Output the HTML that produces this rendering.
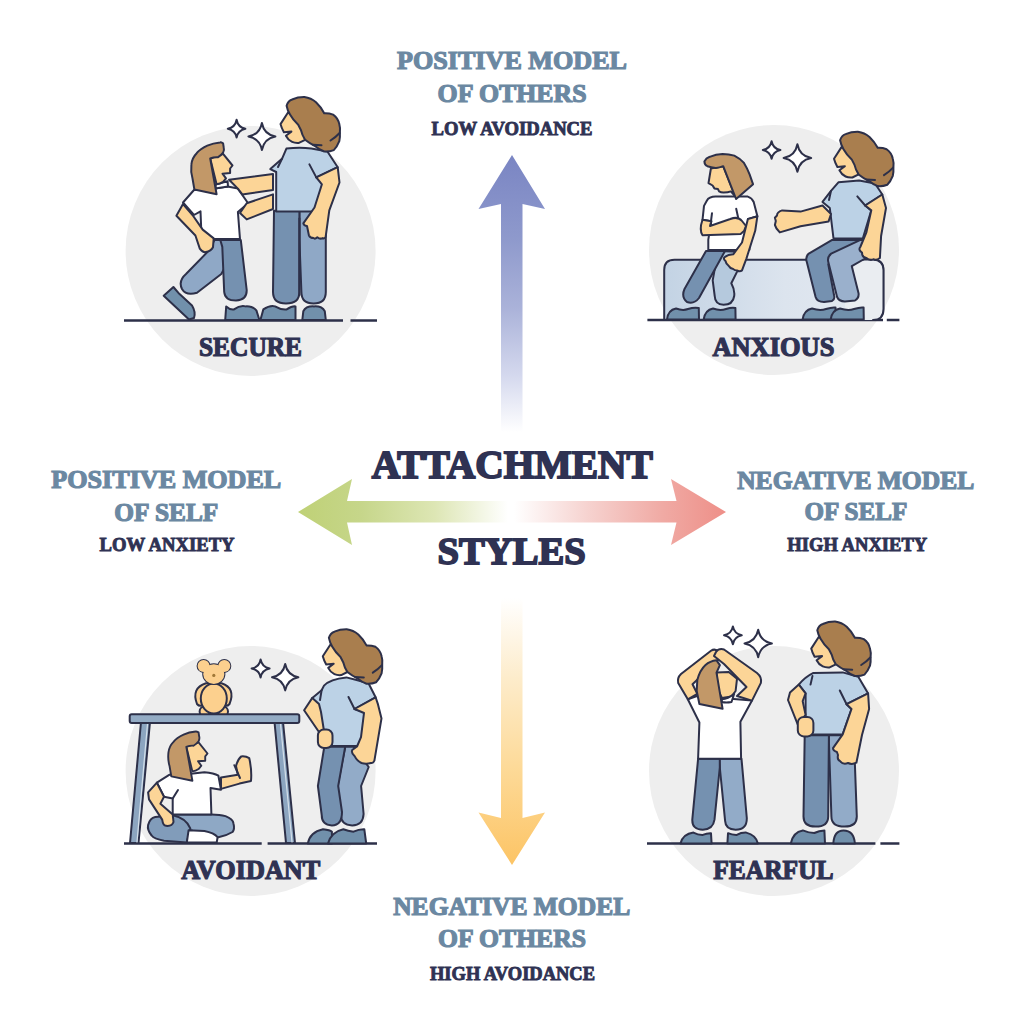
<!DOCTYPE html>
<html><head><meta charset="utf-8">
<style>
html,body{margin:0;padding:0;background:#fff;width:1024px;height:1024px;overflow:hidden}
svg{display:block}
.h{font-family:"Liberation Serif",serif;font-weight:bold;fill:#6b88a2;stroke:#6b88a2;stroke-width:1.2px}
.d{font-family:"Liberation Serif",serif;font-weight:bold;fill:#2f3253;stroke:#2f3253;stroke-width:0.9px}
.big{stroke-width:1.8px}
.lab{stroke-width:1.2px}
</style></head><body>
<svg width="1024" height="1024" viewBox="0 0 1024 1024">
<defs>
<linearGradient id="gUp" x1="0" y1="155" x2="0" y2="432" gradientUnits="userSpaceOnUse">
<stop offset="0" stop-color="#7a85c3"/><stop offset="0.3" stop-color="#8e99cc"/><stop offset="0.55" stop-color="#aab2d9"/><stop offset="0.8" stop-color="#d5d9ee"/><stop offset="1" stop-color="#fff"/>
</linearGradient>
<linearGradient id="gDn" x1="0" y1="598" x2="0" y2="865" gradientUnits="userSpaceOnUse">
<stop offset="0" stop-color="#fff"/><stop offset="0.3" stop-color="#fdeccb"/><stop offset="0.65" stop-color="#fdd996"/><stop offset="1" stop-color="#fcc465"/>
</linearGradient>
<linearGradient id="gL" x1="298" y1="0" x2="508" y2="0" gradientUnits="userSpaceOnUse">
<stop offset="0" stop-color="#bfd176"/><stop offset="0.3" stop-color="#c6d68a"/><stop offset="0.65" stop-color="#dde6b4"/><stop offset="1" stop-color="#fff"/>
</linearGradient>
<linearGradient id="gR" x1="514" y1="0" x2="726" y2="0" gradientUnits="userSpaceOnUse">
<stop offset="0" stop-color="#fff"/><stop offset="0.35" stop-color="#f6d2cf"/><stop offset="0.7" stop-color="#f0aaa4"/><stop offset="1" stop-color="#ee8f88"/>
</linearGradient>

</defs>

<!-- circles -->
<circle cx="250.6" cy="251" r="125" fill="#eeeeee"/>
<circle cx="774" cy="250" r="125" fill="#eeeeee"/>
<circle cx="250.6" cy="771" r="125" fill="#eeeeee"/>
<circle cx="774" cy="771" r="125" fill="#eeeeee"/>

<!-- arrows -->
<path d="M512 155 L545 209 L522.5 204 L522.5 432 L501 432 L501 204 L478.5 209 Z" fill="url(#gUp)"/>
<path d="M512 865 L545 812.5 L522.5 818 L522.5 598 L501 598 L501 818 L478.5 812.5 Z" fill="url(#gDn)"/>
<path d="M298 512 L352 479 L347 501 L510 501 L510 522.5 L347 522.5 L352 545 Z" fill="url(#gL)"/>
<path d="M726 512 L671 479 L676.5 501 L512 501 L512 522.5 L676.5 522.5 L671 545 Z" fill="url(#gR)"/>

<!-- ground lines -->
<g stroke="#2d3049" stroke-width="2.4" fill="none">
<path d="M124 320.5 H343 M350.5 320.5 H377"/>
<path d="M647.4 320 H883 M886.8 320 H899.4"/>
<path d="M124 843.5 H261.7 M267.6 843.5 H377"/>
<path d="M647 843.5 H875.4 M880.4 843.5 H899.4"/>
</g>

<!-- text -->
<g id="txt">
<text class="h" x="397" y="69.3" font-size="25.8" textLength="230" lengthAdjust="spacingAndGlyphs">POSITIVE MODEL</text>
<text class="h" x="437.6" y="102.3" font-size="25.8" textLength="149" lengthAdjust="spacingAndGlyphs">OF OTHERS</text>
<text class="d" x="431.5" y="134.9" font-size="19" textLength="161" lengthAdjust="spacingAndGlyphs">LOW AVOIDANCE</text>

<text class="h" x="51.3" y="488.3" font-size="25.8" textLength="230" lengthAdjust="spacingAndGlyphs">POSITIVE MODEL</text>
<text class="h" x="114.3" y="520.6" font-size="25.8" textLength="104" lengthAdjust="spacingAndGlyphs">OF SELF</text>
<text class="d" x="99.6" y="551.1" font-size="19" textLength="135" lengthAdjust="spacingAndGlyphs">LOW ANXIETY</text>

<text class="h" x="737.2" y="488.8" font-size="25.8" textLength="237" lengthAdjust="spacingAndGlyphs">NEGATIVE MODEL</text>
<text class="h" x="804.4" y="519.9" font-size="25.8" textLength="103" lengthAdjust="spacingAndGlyphs">OF SELF</text>
<text class="d" x="787.3" y="551.2" font-size="19" textLength="140" lengthAdjust="spacingAndGlyphs">HIGH ANXIETY</text>

<text class="h" x="393.2" y="915" font-size="25.8" textLength="237" lengthAdjust="spacingAndGlyphs">NEGATIVE MODEL</text>
<text class="h" x="438" y="947.2" font-size="25.8" textLength="148" lengthAdjust="spacingAndGlyphs">OF OTHERS</text>
<text class="d" x="430" y="980.4" font-size="19" textLength="165" lengthAdjust="spacingAndGlyphs">HIGH AVOIDANCE</text>

<text class="d big" x="371.7" y="478.4" font-size="39.1" textLength="281" lengthAdjust="spacingAndGlyphs">ATTACHMENT</text>
<text class="d big" x="437.6" y="564" font-size="37.8" textLength="148" lengthAdjust="spacingAndGlyphs">STYLES</text>

<text class="d lab" x="199" y="356.4" font-size="26.4" textLength="103" lengthAdjust="spacingAndGlyphs">SECURE</text>
<text class="d lab" x="712.4" y="356.4" font-size="26.4" textLength="122" lengthAdjust="spacingAndGlyphs">ANXIOUS</text>
<text class="d lab" x="181.3" y="879.3" font-size="26.4" textLength="139" lengthAdjust="spacingAndGlyphs">AVOIDANT</text>
<text class="d lab" x="713.2" y="879.3" font-size="26.4" textLength="120.4" lengthAdjust="spacingAndGlyphs">FEARFUL</text>
</g>

<!-- FIGURES -->
<g id="figs" stroke="#2d3049" stroke-width="2.0" stroke-linejoin="round" stroke-linecap="round">

<g id="avoidant">
<path d="M260.6 659.5 Q262.0 667.1 269.6 668.5 Q262.0 669.9 260.6 677.5 Q259.2 669.9 251.6 668.5 Q259.2 667.1 260.6 659.5Z" fill="#fff"/>
<path d="M285.2 664.0 Q287.3 675.1 298.4 677.2 Q287.3 679.3 285.2 690.4 Q283.1 679.3 272.0 677.2 Q283.1 675.1 285.2 664.0Z" fill="#fff"/>
<!-- table legs -->
<path d="M141 722 L150 722 L138.5 843 L130 843 Z" fill="#8ca5c0"/>
<path d="M274.5 722 L283 722 L295 843 L286 843 Z" fill="#8ca5c0"/>
<path d="M147.5 724 L137 842 M280.5 724 L292 842" stroke="#d5e0ea" stroke-width="1.2" fill="none"/>
<!-- teddy -->
<g fill="#fcd08e">
<path d="M197 704 Q191 688 206 683.2 L221.5 683.2 Q236 688 229.5 704 Q227 707 224 705 L203 705 Q199.5 707 197 704 Z"/>
<circle cx="204.6" cy="711.5" r="5"/>
<circle cx="223" cy="711.5" r="5"/>
<ellipse cx="213.8" cy="698.5" rx="13" ry="15"/>
<circle cx="203.6" cy="665.9" r="6"/>
<circle cx="224.3" cy="665.9" r="6"/>
<ellipse cx="213.8" cy="674.1" rx="10.6" ry="9.8"/>
<g stroke="none"><circle cx="203.6" cy="665.9" r="6"/><circle cx="224.3" cy="665.9" r="6"/><ellipse cx="213.8" cy="674.1" rx="10.6" ry="9.8"/></g>
<circle cx="213.8" cy="675.4" r="1.6" fill="#a07838" stroke="none"/>
</g>
<!-- table top -->
<rect x="129.7" y="714.3" width="169.6" height="8.6" rx="2" fill="#93abc4"/>
<!-- child legs -->
<path d="M172.7 814.4 L211.4 814.4 Q220 814.5 225.5 816.1 Q233 819 233.4 823.2 Q235 829 232.5 832 Q226 836 218.4 837.2 L190.3 830.2 L171 828.4 Z" fill="#8ea8c5"/>
<path d="M148.1 824.9 Q150 818 155.2 817 L172.7 815.3 Q186 818 190.3 828.4 L186.8 842.5 L164 840.7 Q154 839 151.6 835.5 Q147 830 148.1 824.9 Z" fill="#819cba"/>
<path d="M188.6 830.2 L204.4 831.1 Q214 833 217.6 837.2 L216.7 842.5 L186.8 842.5 Z" fill="#fff"/>
<!-- child shirt -->
<path d="M156.9 782.7 L169.2 774.8 L188.6 774 L204.4 772.2 Q214 773 218.4 775.7 L221 789.8 L210.5 788 L211.4 814.4 L172.7 814.4 L172.7 798.6 L164 796.8 Z" fill="#fff"/>
<path d="M172.7 798.6 L178 790" fill="none"/>
<!-- child left arm -->
<path d="M156.9 782.7 L148.1 792.4 L149 799.4 L162.2 819.6 Q163 825.5 166 825.8 Q172 826.5 173.5 822 L172.7 814.4 L160.4 803.8 L164 796.8 Z" fill="#fcd597"/>
<!-- child raised arm -->
<path d="M221 777.5 L237.8 774.8 L236 766 Q238 759 241.3 756.4 Q246 756 249.2 758.1 Q252 770 251 781 L239.5 783.6 L221 788.9 Z" fill="#fcd597"/>
<path d="M234.3 765.2 L240 778" fill="none"/>
<!-- child head -->
<g transform="translate(207.5 753.5) scale(0.95) translate(-232.5 -165.5)">
<path d="M210.2 158.5 L223.1 153.8 L232.5 165.5 L230.1 168.5 L230.1 173.1 L222.5 173.7 L226 178.4 L223.1 181.9 Q220 184 216.6 184.3 Z" fill="#fcd597"/>
<path d="M223.1 143.3 Q221 142.2 220.1 142.4 Q213 143 207.3 145.6 Q200 149 196.7 153.2 Q192 158 191.4 164.4 Q190.5 172 192.6 179 L194.4 189.6 L216.6 194.2 L210.2 158.5 Q214 157 217.8 157.3 Q221 155.5 223.1 152.6 Q224.5 150 223.7 147.4 Z" fill="#c29868"/>
</g>
<!-- adult pants -->
<path d="M345.2 746.7 L353.5 746.7 L368.7 767 L361.1 786 L363.6 814 Q363 825.4 352.2 825.4 Q341 825 340.8 815 L337.6 786 Z" fill="#92abc8"/>
<path d="M324.3 746.7 L345.2 746.7 L338.2 786 L342 812 Q342 825.4 331.9 825.4 Q321.7 825 321.7 815 L317.9 786 Z" fill="#7591b0"/>
<!-- adult shirt -->
<path d="M324 685.6 Q330 679 346.3 677.4 L355.6 679.8 L368.5 683.3 L375.6 697.3 L354.5 709 L368 713 L365 746 L322 746 L318 712 L312.3 697.9 L321.6 690.3 Z" fill="#bcd2e6"/>
<path d="M348.5 697 L354.5 709 M321.6 690.3 L320 700" fill="none"/>
<!-- adult left arm -->
<path d="M312.3 697.9 L304.1 710.2 L319.3 732.5 L324 731 L321 712 L319 704 Z" fill="#fcd597"/>
<rect x="317.9" y="729.5" width="14.6" height="18.5" rx="6" fill="#fcd597"/>
<!-- adult right arm -->
<path d="M354.5 709 L375.6 697.3 L378 704.4 L381.5 718.4 L374.4 760.6 Q373 763.5 370.9 763 Q366 764.5 361.5 763 Q357 761 354.5 755.9 Q351 753 352.2 750 L357 746.5 L361 737.2 L364 713 Z" fill="#fcd597"/>
<!-- adult head -->
<g transform="translate(42.3 532.2)">
<path d="M288 112.5 L280.5 124.1 Q281.5 128 283.9 132.3 L291.4 131.6 L285.9 135.7 Q288 140 292.1 141.9 Q295 143.2 298.9 142.9 L305.1 139.8 L300 120 Z" fill="#fcd597"/>
<path d="M286.6 105.7 Q288 101 292.1 99.5 Q298 97 304.4 97.1 Q311 98 316 102.3 Q321 107 324.2 113.2 Q329 113 333.1 114.6 Q338 118 339.3 124.1 Q340.5 128 339.9 133 Q340.2 137 339.3 141.2 Q337 147 333.8 150.1 Q329 152 324.2 151.5 Q319 149.5 316 146.7 Q309 143 305.1 139.8 Q302 135 301 130.3 L298.2 124.8 Q293 120 290 114.6 Q287.5 110.5 286.6 105.7 Z" fill="#a97e4e"/>
<path d="M313 144.8 L321.5 145.3 M330.5 140.5 Q336 137 339.6 133" fill="none"/>
</g>
<!-- shoes -->
<path d="M307.8 843.5 Q310 832 323 829.2 Q330 830 331.9 831.7 L332 843.5 Z" fill="#7190ab"/>
<path d="M328 843.5 Q331 832 343.3 829.2 Q348 831 353.5 831.7 Q359 829 364.3 829.2 L366.2 843.5 Z" fill="#7190ab"/>
</g>

<g id="fearful">
<path d="M732.9 626.4 Q734.3 633.9 741.8 635.3 Q734.3 636.7 732.9 644.2 Q731.5 636.7 724.0 635.3 Q731.5 633.9 732.9 626.4Z" fill="#fff"/>
<path d="M758.2 629.8 Q760.4 641.3 771.9 643.5 Q760.4 645.7 758.2 657.2 Q756.0 645.7 744.5 643.5 Q756.0 641.3 758.2 629.8Z" fill="#fff"/>
<!-- child pants -->
<path d="M719.2 758.8 L741.5 758.8 L746.8 818 Q747 829.7 735.6 829.7 Q725.5 829.5 725.1 820.9 L719.8 767.5 Z" fill="#92abc8"/>
<path d="M698.1 758.8 L719.8 758.8 L719.8 767.5 L714.5 819.7 Q713 829.7 702.8 829.7 Q692 829.5 692.3 819.7 Z" fill="#7591b0"/>
<!-- child shirt -->
<path d="M687.8 699.3 L697 696 L752 700.6 L740.4 721.8 L741.1 758.8 L698.1 758.8 L699.4 722.5 Z" fill="#fff"/>
<!-- child arms -->
<path d="M687.8 699.3 L678.2 682.9 Q677 678 681 674 L711 650.8 Q715 648 719.2 652 L722 656 L716 662 L692.5 684.2 L697.3 693.8 Z" fill="#fcd597"/>
<path d="M752 700.6 L760.9 682.9 Q762 677 757 673 L724 649.5 Q719 648 716 652 L714 656 L724 664 L746.5 687 L737 696 Z" fill="#fcd597"/>
<!-- child head -->
<path d="M716.5 672.6 L728.8 672 L737 678.8 L735.6 691 L731.5 696.5 L721.9 697.9 L718 690 Z" fill="#fcd597"/>
<path d="M721.9 699.3 Q728 699 734.2 693.8 L731.5 702 Q726 703 721.9 702 Z" fill="#fff"/>
<path d="M697.3 680.1 Q700 670 705.5 665.1 Q710 661 716.5 660.3 L719.9 665.1 L716.5 672.6 L722.6 708.8 L699.4 704 L696.7 691 Z" fill="#c29868"/>
<!-- adult pants -->
<path d="M828.9 735.2 L843.5 735.2 L854.9 764.4 L856.8 816.4 Q856.8 826.6 844.7 826.6 Q831.4 826.6 831.4 816.4 L828.9 741.6 Z" fill="#92abc8"/>
<path d="M804.7 735.2 L828.9 735.2 L828.2 816.4 Q828.2 826.6 815.5 826.6 Q803.5 826.6 803.5 816.4 Z" fill="#7591b0"/>
<!-- adult shirt -->
<path d="M805.6 693.4 L798.8 684.6 Q805 677 813.4 672.9 L842.7 672.4 L858.3 676.8 L868.1 693.4 L846.6 704.2 L851.5 709 L842.7 734.4 L805.6 734.4 Z" fill="#bcd2e6"/>
<path d="M839.8 690.5 L846.6 704.2 M812.5 675.9 L810.5 684.6" fill="none"/>
<!-- adult left arm -->
<path d="M798.8 684.6 L790 692.5 L788 700 L797.8 724.7 L805.6 714.9 L802.7 701.2 L805.6 693.4 Z" fill="#fcd597"/>
<rect x="797.8" y="716.9" width="15.6" height="19.5" rx="6" fill="#fcd597"/>
<!-- adult right arm -->
<path d="M846.6 704.2 L868.1 693.4 L869.1 709 L862 735 L856.4 762.7 Q852 765 848 763 Q843 765 840 761 Q837 760 838 755 L836.9 752 Q833 751 833 748.1 L842.7 734.4 L851.5 709 Z" fill="#fcd597"/>
<!-- adult head -->
<g transform="translate(530.7 524.5)">
<path d="M288 112.5 L280.5 124.1 Q281.5 128 283.9 132.3 L291.4 131.6 L285.9 135.7 Q288 140 292.1 141.9 Q295 143.2 298.9 142.9 L305.1 139.8 L300 120 Z" fill="#fcd597"/>
<path d="M286.6 105.7 Q288 101 292.1 99.5 Q298 97 304.4 97.1 Q311 98 316 102.3 Q321 107 324.2 113.2 Q329 113 333.1 114.6 Q338 118 339.3 124.1 Q340.5 128 339.9 133 Q340.2 137 339.3 141.2 Q337 147 333.8 150.1 Q329 152 324.2 151.5 Q319 149.5 316 146.7 Q309 143 305.1 139.8 Q302 135 301 130.3 L298.2 124.8 Q293 120 290 114.6 Q287.5 110.5 286.6 105.7 Z" fill="#a97e4e"/>
<path d="M313 144.8 L321.5 145.3 M330.5 140.5 Q336 137 339.6 133" fill="none"/>
</g>
<!-- shoes -->
<path d="M680.5 843.5 Q683 834 693.4 832.6 Q698 835 702.8 834.9 Q707 833 711 833.2 L711.6 843.5 Z" fill="#7190ab"/>
<path d="M727.4 843.5 L728 833.2 Q732 835 736.8 834.9 Q741 832.5 746.2 832.6 Q756 835 757.9 843.5 Z" fill="#7190ab"/>
<path d="M790.8 843.5 Q793 832 802.8 830.4 Q809 833 814.3 833 Q819 830.5 824.4 830.4 L825 843.5 Z" fill="#7190ab"/>
<path d="M833.3 843.5 Q834 830.4 843.5 830.4 Q854 830.4 854.9 843.5 Z" fill="#7190ab"/>
</g>

<g id="anxious">
<defs>
<linearGradient id="couch" x1="664" y1="0" x2="883" y2="0" gradientUnits="userSpaceOnUse">
<stop offset="0" stop-color="#c3d3e4"/><stop offset="0.55" stop-color="#dce4ee"/><stop offset="1" stop-color="#e4e9f0"/>
</linearGradient>
</defs>
<path d="M771.6 141.2 Q773 148.6 780.4 150 Q773 151.4 771.6 158.8 Q770.2 151.4 762.8 150 Q770.2 148.6 771.6 141.2Z" fill="#fff"/>
<path d="M797.4 144.2 Q799.5 155.9 811.2 158 Q799.5 160.1 797.4 171.8 Q795.3 160.1 783.6 158 Q795.3 155.9 797.4 144.2Z" fill="#fff"/>
<!-- couch -->
<path d="M664.2 319.8 L664.2 270 Q664.2 259.8 674.5 259.8 L873 259.8 Q883.2 259.8 883.2 270 L883.2 309 Q883.2 319.8 872 319.8 Z" fill="url(#couch)"/>
<!-- child legs -->
<path d="M718 251 L745 252 L737.1 271.6 L731.3 283.3 Q735 290 734.2 296 Q733 304.8 723.5 304.8 Q715 304.5 714.7 296 L712.7 280.4 Z" fill="#b5c9dd"/>
<path d="M706 251 L725 251 L699 298 Q694 304.5 687 302 Q681 297 684.5 289 Z" fill="#7591b0"/>
<!-- child shirt -->
<path d="M706.8 200.7 Q709 196.6 715.6 196.6 L747.8 196.6 Q752 198 753.7 202 L757.4 216.2 L747.9 219 L749.4 249.9 L708.3 249.9 L708.3 239.6 L711.3 221.3 L702.5 219.8 L704 205.9 Z" fill="#fff"/>
<path d="M712 213.2 L710.5 225 M736.2 208.8 L739.1 222" fill="none"/>
<!-- child crossed arm -->
<path d="M702.5 219.8 L711.3 221.3 L710 226 L730.3 219 Q738 216 742 221 L746 226 L744 231 L740.6 234 L702.5 235.2 Q699 230 702.5 219.8 Z" fill="#fcd597"/>
<!-- child hanging arm -->
<path d="M747.9 219.1 L757.4 216.2 L755.2 230.8 L746.4 258.6 L742 270.4 Q740 272 737 270.5 Q734 270.5 733.2 268.9 Q730 268.5 728.8 266 Q726 264 725.5 261 Q723 259 724.5 257.2 Q728 254.5 733.2 254.3 L742 242.5 Z" fill="#fcd597"/>
<!-- child head -->
<path d="M710.9 168.5 L708.5 183.1 L712.6 185.5 L714.4 188.4 L717.9 189 L719.1 191.4 Q721 192.6 723.8 192.5 Q728 192.5 730.8 191.4 L735 196 L723.2 166.2 Z" fill="#fcd597"/>
<path d="M704.4 161.5 Q706 158 709.7 156.8 Q716 154 722.6 153.9 Q729 154 734.3 155.6 Q740 158.5 743.7 162.6 Q747 168 749.6 174.4 L753.1 184.3 L736.1 199 L723.2 166.2 Q719 168 715.6 167.9 Q711 167.5 707.4 166.2 Q704.5 165 704.4 161.5 Z" fill="#c29868"/>
<!-- adult pants -->
<path d="M851.8 266.2 Q856 259.5 864.5 259.4 L873 259.4 Q883.5 260 883.5 270 L883.5 309 Q883.5 320 873 320 L845 320 L845 300 Z" fill="#eaedf1" stroke="none"/>
<path d="M851.8 266.2 Q856 259.5 864.5 259.4 L873 259.4 Q883.5 260 883.5 270 L883.5 309 Q883.5 320 873 320" fill="none"/>
<path d="M862 239.7 L832.2 239.9 L808.8 253.6 Q805 257 806.8 262 L815.6 297 Q817 302 824 302 L832 301 Q835 299 834.2 296 L828.3 264.3 L850 250 Z" fill="#7591b0"/>
<path d="M865.2 239.7 L860.5 239.9 L831.2 253.6 Q827 257 828.3 262 L837.1 297 Q839 301.5 845 301.4 L855 300.5 Q859 298 858.6 293.6 L851.8 266.2 L866 258 Z" fill="#9ab0cc"/>
<!-- adult shirt -->
<path d="M838.4 182.3 L859.1 180.5 L875 183.5 L882.3 194.5 L865.2 205.5 L871.3 210.4 L862.8 238.5 L833.5 238.5 L829.8 208 L822.5 201.9 L831 190.9 Z" fill="#bcd2e6"/>
<path d="M857.3 196.4 L865.2 205.5 M831 190.9 L829 200" fill="none"/>
<!-- adult reaching arm -->
<path d="M831 214 L822.5 205.5 L800.5 211.6 L782.2 210.4 Q777 212 777 215.5 L774.9 217.7 L775.8 221 L774.9 225 L776.5 228.5 L779.8 232.4 L800.5 226.3 L828.6 221.4 Z" fill="#fcd597"/>
<!-- adult right arm -->
<path d="M865.2 205.5 L882.3 194.5 L886 208 L881.1 236 L879.9 258 Q876 261 873.8 259.2 Q870 261 866.4 258 Q862 257.5 862 252.5 Q858 250 860.3 247 L866.4 232.4 L871.3 210.4 Z" fill="#fcd597"/>
<!-- adult head -->
<g transform="translate(553.5 34.6)">
<path d="M288 112.5 L280.5 124.1 Q281.5 128 283.9 132.3 L291.4 131.6 L285.9 135.7 Q288 140 292.1 141.9 Q295 143.2 298.9 142.9 L305.1 139.8 L300 120 Z" fill="#fcd597"/>
<path d="M286.6 105.7 Q288 101 292.1 99.5 Q298 97 304.4 97.1 Q311 98 316 102.3 Q321 107 324.2 113.2 Q329 113 333.1 114.6 Q338 118 339.3 124.1 Q340.5 128 339.9 133 Q340.2 137 339.3 141.2 Q337 147 333.8 150.1 Q329 152 324.2 151.5 Q319 149.5 316 146.7 Q309 143 305.1 139.8 Q302 135 301 130.3 L298.2 124.8 Q293 120 290 114.6 Q287.5 110.5 286.6 105.7 Z" fill="#a97e4e"/>
<path d="M313 144.8 L321.5 145.3 M330.5 140.5 Q336 137 339.6 133" fill="none"/>
</g>
<!-- shoes -->
<path d="M667 319.5 Q668 310 676 308.5 Q683 311 688 309 Q694 307 698.8 308 L699 319.5 Z" fill="#7190ab"/>
<path d="M703.7 319.5 Q705 310 713 308.5 Q720 311 726 309 Q732 307 735.4 308 L735.6 319.5 Z" fill="#7190ab"/>
<path d="M802.6 319.5 Q804 310 812 308.5 Q820 311 826 309 Q832 307 835.5 307.5 L835.7 319.5 Z" fill="#7190ab"/>
<path d="M830.7 319.5 Q832 310 840 308.5 Q848 311 854 309 Q860 307 863.6 307.5 L863.8 319.5 Z" fill="#7190ab"/>
</g>

<g id="secure">
<!-- sparkles -->
<path d="M236.6 119.8 Q238 127.4 245.4 128.8 Q238 130.2 236.6 137.6 Q235.2 130.2 227.8 128.8 Q235.2 127.4 236.6 119.8Z" fill="#fff"/>
<path d="M261.9 123 Q264 134.4 275.4 136.5 Q264 138.6 261.9 150 Q259.8 138.6 248.4 136.5 Q259.8 134.4 261.9 123Z" fill="#fff"/>
<!-- adult back leg/pants -->
<path d="M299.4 210.7 L313 210.7 L325.8 232 L325.8 292 Q325.8 303.5 313.6 303.5 Q301.4 303.5 301.4 292 L299.4 240 Z" fill="#8fa8c6"/>
<path d="M274 210.7 L299.4 210.7 L299.4 292 Q299.4 303.5 286 303.5 Q273 303.5 273 292 Z" fill="#7591b0"/>
<path d="M299.4 218.5 L299.4 295" fill="none"/>
<!-- adult shirt -->
<path d="M286.4 148.6 Q300 147 311.3 148.6 L327.4 151.5 L337.7 167.2 L316.3 177.4 L323 184 L316 208 L314 211.6 L276.2 211.6 L276.2 172 L270.3 169.1 L282 158.8 Z" fill="#bcd2e6"/>
<path d="M282 158.8 L278 167" fill="none"/>
<path d="M309.4 164.4 L316.3 177.4" fill="none"/>
<!-- adult right arm -->
<path d="M316.3 177.4 L337.7 167.2 L339.5 182.5 L329.3 210.3 L325.6 237.2 Q324 239 322.8 238.1 Q320 239.5 317.3 237.2 Q315 239.5 313.6 238.1 Q310 238 308.9 235.3 L307 226 Q304 226 303.3 223.3 L314.5 207.5 L321.9 184.3 Z" fill="#fcd597"/>
<!-- adult head -->
<g transform="translate(0 0)">
<path d="M288 112.5 L280.5 124.1 Q281.5 128 283.9 132.3 L291.4 131.6 L285.9 135.7 Q288 140 292.1 141.9 Q295 143.2 298.9 142.9 L305.1 139.8 L300 120 Z" fill="#fcd597"/>
<path d="M286.6 105.7 Q288 101 292.1 99.5 Q298 97 304.4 97.1 Q311 98 316 102.3 Q321 107 324.2 113.2 Q329 113 333.1 114.6 Q338 118 339.3 124.1 Q340.5 128 339.9 133 Q340.2 137 339.3 141.2 Q337 147 333.8 150.1 Q329 152 324.2 151.5 Q319 149.5 316 146.7 Q309 143 305.1 139.8 Q302 135 301 130.3 L298.2 124.8 Q293 120 290 114.6 Q287.5 110.5 286.6 105.7 Z" fill="#a97e4e"/>
<path d="M313 144.8 L321.5 145.3 M330.5 140.5 Q336 137 339.6 133" fill="none"/>
</g>
<!-- child pants -->
<path d="M214.5 240 L240 240 L221.3 274 L197 292.8 Q186 296 182 289 Q178 281 186 274 L208.6 250.8 Z" fill="#8fa8c6"/>
<path d="M220.3 240 L240.8 240 L246.7 290 Q247 300 236 300.6 Q225 300.6 224.2 292 L222.3 246.9 Z" fill="#7591b0"/>
<!-- child shirt -->
<path d="M215.2 188.6 L194 190 L183 202.5 L194 215 L200.5 211.3 L201.3 231 L213 239.1 L240 239.1 L237.9 212 L248.1 203.2 L237.9 188.6 L227.6 186.4 Z" fill="#fff"/>
<path d="M216 184.2 L227.6 181.3 L228 186.4 L215.2 188.6 Z" fill="#fff"/>
<!-- child left arm -->
<path d="M183 204 L176.4 215.7 L195.4 235.5 L199.8 248.6 Q203 253 206 252 Q211 251 213 247.2 L213.7 238.4 L202.7 229.6 L192.5 215 Z" fill="#fcd597"/>
<!-- child right arm -->
<path d="M246.7 203.2 L273 194.4 L273 209 L246.7 219.4 L240 213 Z" fill="#fcd597"/>
<!-- adult arm to child -->
<path d="M229.1 179.8 L273 174 L273 190 L242.3 194.4 L237.9 188.6 Z" fill="#fcd597"/>
<!-- child head -->
<g>
<path d="M210.2 158.5 L223.1 153.8 L232.5 165.5 L230.1 168.5 L230.1 173.1 L222.5 173.7 L226 178.4 L223.1 181.9 Q220 184 216.6 184.3 Z" fill="#fcd597"/>
<path d="M223.1 143.3 Q221 142.2 220.1 142.4 Q213 143 207.3 145.6 Q200 149 196.7 153.2 Q192 158 191.4 164.4 Q190.5 172 192.6 179 L194.4 189.6 L216.6 194.2 L210.2 158.5 Q214 157 217.8 157.3 Q221 155.5 223.1 152.6 Q224.5 150 223.7 147.4 Z" fill="#c29868"/>
</g>
<!-- shoes -->
<path d="M163.7 295.7 L173.4 287 L179.3 293.8 L192 305.5 Q196 312 194 318 L189 319.5 Z" fill="#7190ab"/>
<path d="M225.2 320 L226.2 306.4 Q230 310 234 309.4 Q240 305 245.7 306.4 Q252 306 256.4 310.4 L259.4 320 Z" fill="#7190ab"/>
<path d="M260.4 320 L263.3 309.4 Q270 305 275 306.4 Q281 310 286.7 309.4 Q292 306 295.5 306.4 L295.5 320 Z" fill="#7190ab"/>
<path d="M302.3 320 L303.3 311.3 Q306 306 314 306.4 Q322 306 324.8 311.3 L325.8 320 Z" fill="#7190ab"/>
</g>
</g>
</svg>
</body></html>
